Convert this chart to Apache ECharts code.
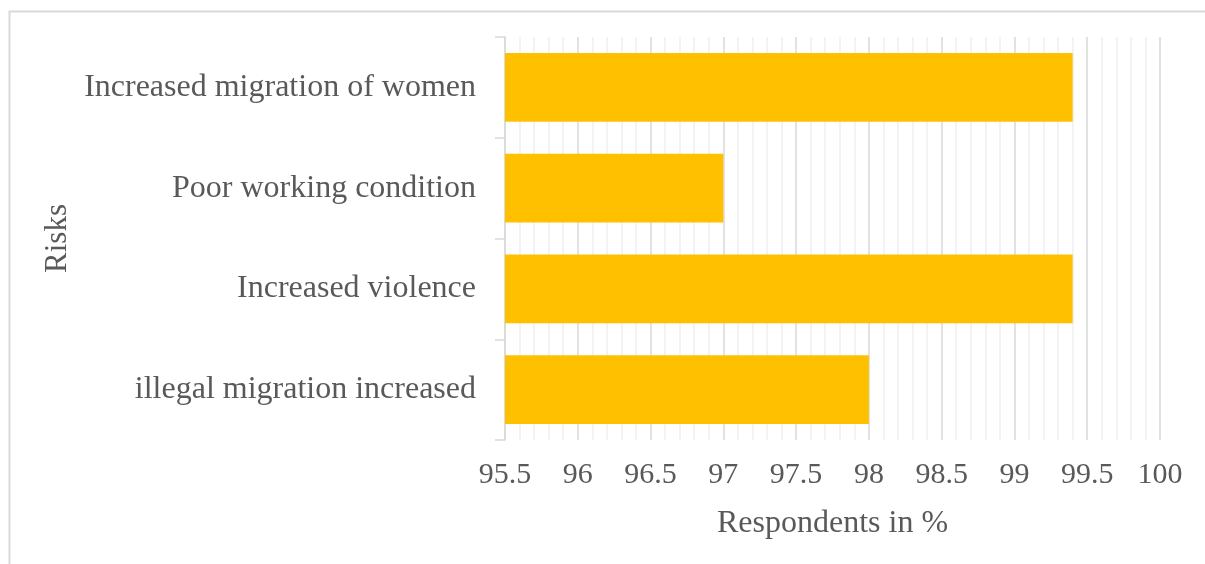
<!DOCTYPE html>
<html>
<head>
<meta charset="utf-8">
<script src="https://cdn.jsdelivr.net/npm/echarts@6/dist/echarts.min.js"></script>
<style>
  html, body { margin: 0; padding: 0; background: #ffffff; }
  #chart { width: 1205px; height: 564px; }
</style>
</head>
<body>
<div id="chart"></div>
<script>
// Risk categories, listed bottom to top as the category axis draws them
const categories = [
  'illegal migration increased',
  'Increased violence',
  'Poor working condition',
  'Increased migration of women'
];
// Share of respondents (%) naming each risk
const respondents = [98.0, 99.4, 97.0, 99.4];

const xMin = 95.5;
const xMax = 100;
const xStep = 0.5;

const textColor = '#595959';
const fontFamily = '"Liberation Serif", "Times New Roman", serif';

const chart = echarts.init(document.getElementById('chart'), null, { renderer: 'canvas' });

chart.setOption({
  animation: false,
  backgroundColor: '#ffffff',
  graphic: [{
    type: 'rect',
    left: 7,
    top: 9,
    shape: { width: 1220, height: 600 },
    style: { fill: 'none', stroke: '#d9d9d9', lineWidth: 2 },
    silent: true
  }],
  grid: {
    left: 505,
    right: 45,
    top: 37,
    bottom: 124,
    containLabel: false
  },
  xAxis: {
    type: 'value',
    min: xMin,
    max: xMax,
    interval: xStep,
    axisLine: { show: false },
    axisTick: { show: false },
    axisLabel: {
      color: textColor,
      fontFamily: fontFamily,
      fontSize: 30,
      margin: 20,
      formatter: v => String(Math.round(v * 10) / 10)
    },
    splitLine: { show: true, lineStyle: { color: '#d9d9d9', width: 1.5 } },
    minorTick: { show: false, splitNumber: 5 },
    minorSplitLine: { show: true, lineStyle: { color: '#efefef', width: 1.5 } },
    name: 'Respondents in %',
    nameLocation: 'middle',
    nameGap: 68,
    nameTextStyle: { color: textColor, fontFamily: fontFamily, fontSize: 32 }
  },
  yAxis: {
    type: 'category',
    data: categories,
    axisLine: { show: true, lineStyle: { color: '#d9d9d9', width: 1.5 } },
    axisTick: { show: true, length: 10, lineStyle: { color: '#d9d9d9', width: 1.5 } },
    axisLabel: {
      color: textColor,
      fontFamily: fontFamily,
      fontSize: 32,
      margin: 29,
      padding: [9, 0, 0, 0]
    },
    name: 'Risks',
    nameLocation: 'middle',
    nameGap: 420,
    nameRotate: 90,
    nameTextStyle: { color: textColor, fontFamily: fontFamily, fontSize: 31 }
  },
  series: [{
    type: 'bar',
    data: respondents,
    barCategoryGap: '32%',
    itemStyle: { color: '#ffc000' },
    silent: true
  }]
});
</script>
</body>
</html>
